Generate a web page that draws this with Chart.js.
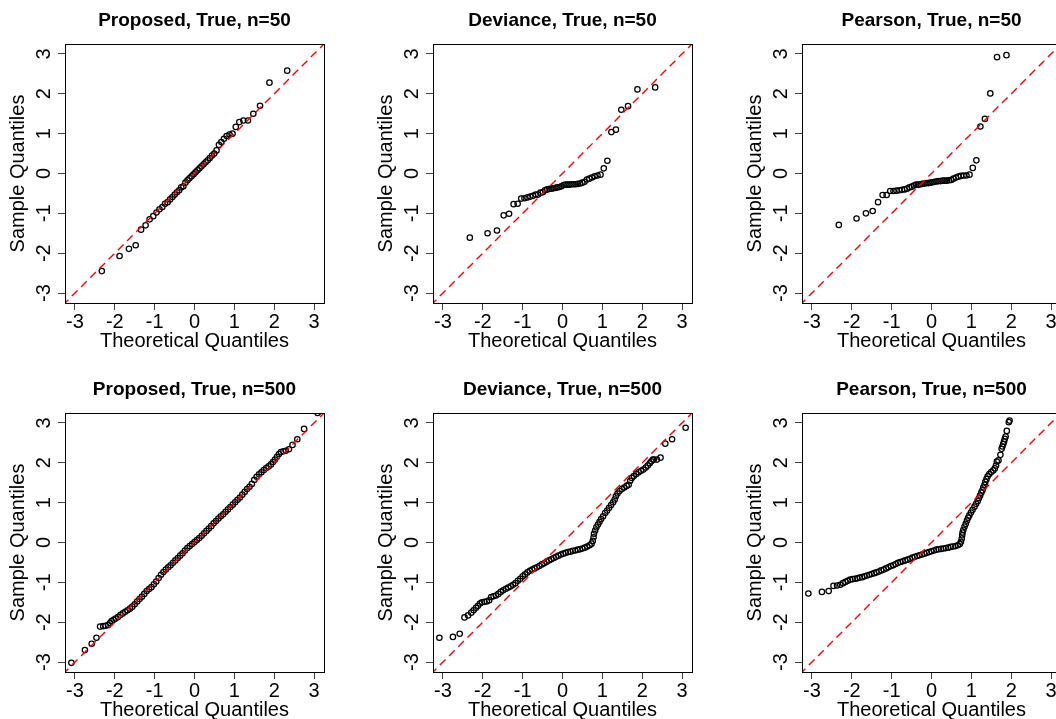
<!DOCTYPE html>
<html>
<head>
<meta charset="utf-8">
<script src="https://cdn.jsdelivr.net/npm/chart.js@4.4.0/dist/chart.umd.min.js"></script>
<style>
  html, body { margin: 0; padding: 0; background: #fff; overflow: hidden; width: 1056px; height: 719px; }
  canvas { position: absolute; }
</style>
</head>
<body>
<canvas id="c0" width="368" height="368" style="left:0px;top:0px"></canvas>
<canvas id="c1" width="368" height="368" style="left:368px;top:0px"></canvas>
<canvas id="c2" width="368" height="368" style="left:737px;top:0px"></canvas>
<canvas id="c3" width="368" height="368" style="left:0px;top:369px"></canvas>
<canvas id="c4" width="368" height="368" style="left:368px;top:369px"></canvas>
<canvas id="c5" width="368" height="368" style="left:737px;top:369px"></canvas>
<script>
// axis setup shared by all six panels
const axisMin = -3.25;
const axisMax = 3.25;
const tickValues = [-3, -2, -1, 0, 1, 2, 3];
const refLine = [-4, 4];

// theoretical normal quantiles for n=50
const theoretical50 = [-2.326, -1.881, -1.645, -1.476, -1.341, -1.227, -1.126, -1.036, -0.954, -0.878,
  -0.806, -0.739, -0.674, -0.613, -0.553, -0.496, -0.440, -0.385, -0.332, -0.279,
  -0.228, -0.176, -0.126, -0.075, -0.025, 0.025, 0.075, 0.126, 0.176, 0.228,
  0.279, 0.332, 0.385, 0.440, 0.496, 0.553, 0.613, 0.674, 0.739, 0.806,
  0.878, 0.954, 1.036, 1.126, 1.227, 1.341, 1.476, 1.645, 1.881, 2.326];

// sample quantiles, n=50
const proposed50 = [-2.45, -2.07, -1.89, -1.80, -1.41, -1.30, -1.15, -1.07, -0.98, -0.90,
  -0.84, -0.76, -0.72, -0.65, -0.59, -0.53, -0.47, -0.42, -0.35, -0.32,
  -0.23, -0.17, -0.12, -0.07, -0.02, 0.03, 0.08, 0.13, 0.18, 0.23,
  0.28, 0.33, 0.39, 0.45, 0.50, 0.58, 0.72, 0.79, 0.87, 0.94,
  0.98, 1.00, 1.17, 1.29, 1.33, 1.33, 1.50, 1.70, 2.28, 2.58];
const deviance50 = [-1.61, -1.50, -1.43, -1.05, -1.01, -0.77, -0.76, -0.63, -0.62, -0.60,
  -0.58, -0.56, -0.53, -0.53, -0.48, -0.47, -0.42, -0.40, -0.39, -0.38,
  -0.37, -0.36, -0.35, -0.34, -0.32, -0.29, -0.28, -0.28, -0.28, -0.27,
  -0.27, -0.27, -0.26, -0.25, -0.23, -0.21, -0.15, -0.13, -0.10, -0.07,
  -0.05, -0.03, 0.13, 0.32, 1.04, 1.10, 1.60, 1.69, 2.11, 2.16];
const pearson50 = [-1.29, -1.13, -1.00, -0.94, -0.72, -0.54, -0.54, -0.44, -0.44, -0.43,
  -0.42, -0.41, -0.40, -0.38, -0.35, -0.33, -0.30, -0.28, -0.28, -0.27,
  -0.26, -0.25, -0.24, -0.24, -0.23, -0.22, -0.21, -0.20, -0.19, -0.19,
  -0.18, -0.18, -0.18, -0.17, -0.16, -0.13, -0.10, -0.08, -0.06, -0.05,
  -0.05, -0.03, 0.14, 0.33, 1.18, 1.37, 2.01, 2.92, 2.97, 3.60];

// n=500 panels: [theoretical, sample] pairs
const proposed500 = [
  [-3.09, -3.02], [-2.75, -2.70], [-2.58, -2.54], [-2.46, -2.39], [-2.37, -2.11], [-2.29, -2.10],
  [-2.23, -2.09], [-2.17, -2.07], [-2.12, -2.02], [-2.08, -1.97], [-2.03, -1.94], [-1.98, -1.91],
  [-1.92, -1.87], [-1.86, -1.82], [-1.80, -1.78], [-1.74, -1.74], [-1.68, -1.70], [-1.62, -1.66],
  [-1.56, -1.61], [-1.50, -1.55], [-1.44, -1.48], [-1.38, -1.42], [-1.32, -1.36], [-1.26, -1.29],
  [-1.20, -1.22], [-1.14, -1.17], [-1.08, -1.12], [-1.02, -1.05], [-0.96, -0.98], [-0.90, -0.89],
  [-0.84, -0.81], [-0.78, -0.74], [-0.72, -0.68], [-0.66, -0.62], [-0.60, -0.57], [-0.54, -0.51],
  [-0.48, -0.45], [-0.42, -0.39], [-0.36, -0.33], [-0.30, -0.27], [-0.24, -0.20], [-0.18, -0.14],
  [-0.12, -0.09], [-0.06, -0.04], [0.00, 0.01], [0.06, 0.06], [0.12, 0.11], [0.18, 0.17],
  [0.24, 0.23], [0.30, 0.29], [0.36, 0.35], [0.42, 0.41], [0.48, 0.48], [0.54, 0.54],
  [0.60, 0.60], [0.66, 0.66], [0.72, 0.71], [0.78, 0.77], [0.84, 0.83], [0.90, 0.89],
  [0.96, 0.95], [1.02, 1.01], [1.08, 1.07], [1.14, 1.13], [1.20, 1.20], [1.26, 1.27],
  [1.32, 1.34], [1.38, 1.40], [1.44, 1.47], [1.50, 1.57], [1.56, 1.65], [1.62, 1.71],
  [1.68, 1.76], [1.74, 1.82], [1.80, 1.87], [1.86, 1.91], [1.92, 1.96], [1.97, 2.02],
  [2.02, 2.08], [2.07, 2.15], [2.12, 2.22], [2.17, 2.27], [2.23, 2.29], [2.29, 2.30],
  [2.37, 2.34], [2.46, 2.45], [2.58, 2.59], [2.75, 2.85], [3.09, 3.25]];
const deviance500 = [
  [-3.09, -2.39], [-2.75, -2.37], [-2.58, -2.29], [-2.46, -1.88], [-2.37, -1.83], [-2.29, -1.76],
  [-2.23, -1.70], [-2.17, -1.64], [-2.12, -1.59], [-2.07, -1.53], [-2.02, -1.50], [-1.96, -1.49],
  [-1.90, -1.48], [-1.84, -1.45], [-1.79, -1.37], [-1.73, -1.35], [-1.67, -1.33], [-1.61, -1.29],
  [-1.55, -1.24], [-1.49, -1.20], [-1.42, -1.16], [-1.36, -1.13], [-1.30, -1.10], [-1.24, -1.06],
  [-1.18, -1.02], [-1.12, -0.96], [-1.06, -0.91], [-1.00, -0.85], [-0.94, -0.80], [-0.88, -0.75],
  [-0.82, -0.71], [-0.76, -0.68], [-0.70, -0.65], [-0.64, -0.62], [-0.58, -0.59], [-0.52, -0.55],
  [-0.46, -0.52], [-0.40, -0.48], [-0.34, -0.45], [-0.28, -0.42], [-0.22, -0.39], [-0.16, -0.36],
  [-0.10, -0.33], [-0.04, -0.30], [0.02, -0.28], [0.08, -0.26], [0.14, -0.24], [0.20, -0.23],
  [0.26, -0.21], [0.32, -0.20], [0.38, -0.18], [0.44, -0.17], [0.50, -0.15], [0.56, -0.13],
  [0.62, -0.10], [0.68, -0.07], [0.73, -0.03], [0.76, 0.04], [0.78, 0.13], [0.79, 0.22],
  [0.82, 0.30], [0.85, 0.38], [0.89, 0.45], [0.93, 0.52], [0.97, 0.59], [1.02, 0.66],
  [1.07, 0.74], [1.12, 0.80], [1.17, 0.87], [1.22, 0.94], [1.27, 1.01], [1.31, 1.08],
  [1.34, 1.16], [1.38, 1.23], [1.43, 1.29], [1.49, 1.34], [1.55, 1.38], [1.61, 1.42],
  [1.66, 1.45], [1.70, 1.55], [1.74, 1.62], [1.79, 1.67], [1.85, 1.72], [1.91, 1.76],
  [1.97, 1.80], [2.03, 1.83], [2.09, 1.88], [2.14, 1.93], [2.19, 1.99], [2.23, 2.04],
  [2.27, 2.08], [2.29, 2.08], [2.37, 2.08], [2.46, 2.13], [2.58, 2.48], [2.75, 2.59], [3.09, 2.88]];
const pearson500 = [
  [-3.09, -1.28], [-2.75, -1.24], [-2.58, -1.22], [-2.46, -1.09], [-2.37, -1.08], [-2.29, -1.06],
  [-2.22, -1.02], [-2.16, -0.99], [-2.10, -0.96], [-2.04, -0.93], [-1.98, -0.92], [-1.92, -0.91],
  [-1.86, -0.90], [-1.80, -0.88], [-1.74, -0.87], [-1.68, -0.85], [-1.62, -0.83], [-1.56, -0.81],
  [-1.50, -0.79], [-1.44, -0.77], [-1.38, -0.75], [-1.32, -0.73], [-1.26, -0.70], [-1.20, -0.68],
  [-1.14, -0.65], [-1.08, -0.62], [-1.02, -0.59], [-0.96, -0.57], [-0.90, -0.54], [-0.84, -0.51],
  [-0.78, -0.49], [-0.72, -0.47], [-0.66, -0.45], [-0.60, -0.43], [-0.54, -0.41], [-0.48, -0.38],
  [-0.42, -0.36], [-0.36, -0.34], [-0.30, -0.32], [-0.24, -0.30], [-0.18, -0.28], [-0.12, -0.26],
  [-0.06, -0.24], [0.00, -0.22], [0.06, -0.20], [0.12, -0.18], [0.18, -0.17], [0.24, -0.16],
  [0.30, -0.15], [0.36, -0.14], [0.42, -0.13], [0.48, -0.11], [0.54, -0.10], [0.60, -0.09],
  [0.66, -0.07], [0.71, -0.04], [0.74, 0.02], [0.76, 0.10], [0.77, 0.18], [0.78, 0.25],
  [0.80, 0.32], [0.83, 0.40], [0.86, 0.47], [0.89, 0.55], [0.92, 0.62], [0.95, 0.68],
  [0.99, 0.75], [1.03, 0.82], [1.08, 0.90], [1.12, 0.97], [1.16, 1.04], [1.19, 1.11],
  [1.22, 1.18], [1.25, 1.25], [1.28, 1.31], [1.30, 1.38], [1.33, 1.45], [1.35, 1.52],
  [1.38, 1.59], [1.41, 1.66], [1.45, 1.72], [1.50, 1.77], [1.55, 1.81], [1.59, 1.86],
  [1.62, 1.93], [1.64, 2.03], [1.68, 2.06], [1.73, 2.20], [1.76, 2.35], [1.78, 2.41],
  [1.80, 2.47], [1.82, 2.53], [1.84, 2.60], [1.86, 2.66], [1.89, 2.80], [1.94, 3.02], [1.96, 3.06]];

const FONT = "'Liberation Sans', Arial, Helvetica, sans-serif";

function zip(xs, ys) {
  return xs.map((x, i) => ({ x: x, y: ys[i] }));
}
function pairs(list) {
  return list.map(p => ({ x: p[0], y: p[1] }));
}

const boxPlugin = {
  id: 'box',
  afterDraw(chart) {
    const a = chart.chartArea;
    const ctx = chart.ctx;
    ctx.save();
    ctx.strokeStyle = '#000';
    ctx.lineWidth = 1;
    ctx.strokeRect(Math.round(a.left) + 0.5, Math.round(a.top) + 0.5,
      Math.round(a.right - a.left), Math.round(a.bottom - a.top));
    ctx.restore();
  }
};

function axis(label, isX) {
  const ax = {
    type: 'linear',
    min: axisMin,
    max: axisMax,
    afterBuildTicks: s => { s.ticks = tickValues.map(v => ({ value: v })); },
    grid: { drawOnChartArea: false, drawTicks: true, tickLength: 7, color: '#444', lineWidth: 1 },
    border: { display: false },
    ticks: {
      font: { family: FONT, size: 20 },
      color: '#000',
      autoSkip: false,
      callback: v => String(v)
    },
    title: { display: true, text: label, font: { family: FONT, size: 20 }, color: '#000' }
  };
  if (isX) {
    ax.afterFit = s => { s.height = 57; };
    ax.ticks.padding = 0;
    ax.ticks.maxRotation = 0;
    ax.title.padding = { top: 0, bottom: 6.6 };
  } else {
    ax.afterFit = s => { s.width = 59; };
    ax.ticks.padding = 5;
    ax.ticks.minRotation = 90;
    ax.ticks.maxRotation = 90;
    ax.ticks.crossAlign = 'center';
    ax.title.padding = { top: 0.3, bottom: 0 };
  }
  return ax;
}

function qqChart(id, title, points) {
  const ctx = document.getElementById(id).getContext('2d');
  new Chart(ctx, {
    type: 'scatter',
    data: {
      datasets: [
        {
          label: 'qqline',
          data: refLine.map(v => ({ x: v, y: v })),
          showLine: true,
          borderColor: '#ff0000',
          borderWidth: 1.4,
          borderDash: [8, 5],
          pointRadius: 0,
          fill: false,
          clip: 0,
          order: 0,
        },
        {
          label: 'sample',
          data: points,
          pointRadius: 2.7,
          pointBorderWidth: 1.25,
          pointBorderColor: '#000',
          pointBackgroundColor: 'rgba(0,0,0,0)',
          clip: 0,
          order: 1,
        },
      ],
    },
    options: {
      responsive: false,
      animation: false,
      events: [],
      layout: { padding: { left: 6, right: 44, top: 0, bottom: 8 } },
      scales: {
        x: axis('Theoretical Quantiles', true),
        y: axis('Sample Quantiles', false),
      },
      plugins: {
        legend: { display: false },
        tooltip: { enabled: false },
        title: {
          display: true,
          text: title,
          fullSize: false,
          color: '#000',
          font: { family: FONT, size: 19, weight: 'bold' },
          padding: { top: 9.5, bottom: 11.7 },
        },
      },
    },
    plugins: [boxPlugin],
  });
}

document.addEventListener('DOMContentLoaded', (ev) => {
  qqChart('c0', 'Proposed, True, n=50', zip(theoretical50, proposed50));
  qqChart('c1', 'Deviance, True, n=50', zip(theoretical50, deviance50));
  qqChart('c2', 'Pearson, True, n=50', zip(theoretical50, pearson50));
  qqChart('c3', 'Proposed, True, n=500', pairs(proposed500));
  qqChart('c4', 'Deviance, True, n=500', pairs(deviance500));
  qqChart('c5', 'Pearson, True, n=500', pairs(pearson500));
});
</script>
</body>
</html>
